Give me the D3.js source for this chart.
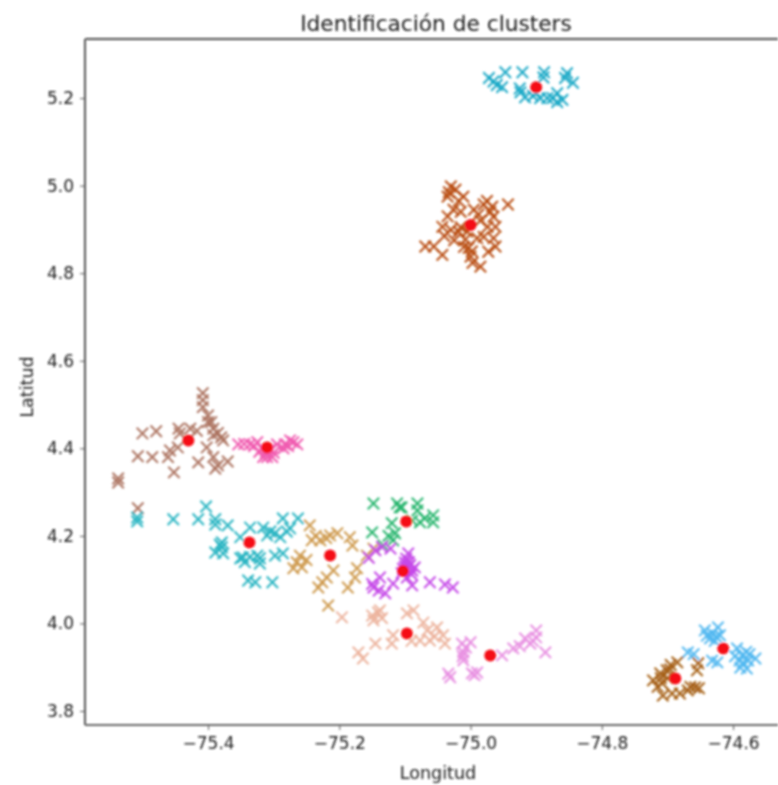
<!DOCTYPE html>
<html>
<head>
<meta charset="utf-8">
<script src="https://cdn.jsdelivr.net/npm/d3@7"></script>
<style>
  html, body { margin: 0; padding: 0; background: #fff; overflow: hidden; }
  text { font-family: "DejaVu Sans", sans-serif; fill: #1c1c1c; }
</style>
</head>
<body>
<div id="chart"></div>
<script>
// values, [longitud, latitud]
const teal = [[-74.972,5.246],[-74.965,5.238],[-74.947,5.259],[-74.96,5.23],[-74.952,5.225],[-74.921,5.259],[-74.888,5.259],[-74.889,5.247],[-74.924,5.213],[-74.917,5.202],[-74.905,5.205],[-74.894,5.2],[-74.883,5.2],[-74.868,5.211],[-74.868,5.191],[-74.86,5.196],[-74.875,5.2],[-74.853,5.257],[-74.856,5.246],[-74.844,5.235],[-74.925,5.222],[-74.9,5.212]];
const rust = [[-75.03,4.998],[-75.023,4.991],[-75.011,4.975],[-75.035,4.975],[-75.026,4.945],[-74.98,4.957],[-74.967,4.952],[-74.943,4.957],[-74.988,4.934],[-74.965,4.929],[-75.043,4.906],[-75.03,4.899],[-75.018,4.895],[-74.974,4.906],[-74.962,4.906],[-74.98,4.883],[-75.008,4.877],[-75.003,4.858],[-75,4.838],[-74.997,4.824],[-74.985,4.815],[-74.973,4.849],[-74.962,4.861],[-75.069,4.861],[-75.056,4.861],[-75.043,4.842],[-75.035,4.93],[-75.015,4.94],[-74.995,4.945],[-75.04,4.885],[-75.01,4.86],[-74.99,4.88],[-75.025,4.875],[-74.975,4.965],[-75.033,4.985],[-75.018,4.965],[-74.998,4.85],[-74.965,4.88],[-74.985,4.92],[-75.015,4.905],[-75.005,4.895],[-74.97,4.94]];
const mauve = [[-75.408,4.526],[-75.408,4.51],[-75.408,4.494],[-75.40,4.475],[-75.40,4.46],[-75.392,4.445],[-75.385,4.435],[-75.377,4.418],[-75.392,4.43],[-75.445,4.445],[-75.427,4.445],[-75.417,4.44],[-75.443,4.434],[-75.5,4.434],[-75.479,4.439],[-75.507,4.382],[-75.485,4.38],[-75.461,4.38],[-75.458,4.395],[-75.446,4.402],[-75.452,4.345],[-75.415,4.368],[-75.392,4.38],[-75.389,4.354],[-75.385,4.361],[-75.37,4.37],[-75.402,4.402],[-75.537,4.331],[-75.537,4.322],[-75.507,4.263],[-75.395,4.46],[-75.38,4.425]];
const pink = [[-75.354,4.409],[-75.336,4.409],[-75.325,4.414],[-75.318,4.4],[-75.31,4.38],[-75.302,4.38],[-75.316,4.38],[-75.295,4.409],[-75.283,4.409],[-75.275,4.418],[-75.264,4.409],[-75.27,4.414],[-75.33,4.405],[-75.305,4.398],[-75.285,4.4],[-75.345,4.41],[-75.312,4.39],[-75.322,4.392],[-75.3,4.39],[-75.278,4.405]];
const cyan = [[-75.508,4.242],[-75.508,4.233],[-75.453,4.238],[-75.403,4.267],[-75.415,4.238],[-75.389,4.238],[-75.389,4.226],[-75.37,4.224],[-75.379,4.185],[-75.379,4.174],[-75.389,4.162],[-75.377,4.16],[-75.336,4.219],[-75.316,4.219],[-75.351,4.197],[-75.31,4.201],[-75.298,4.206],[-75.29,4.197],[-75.286,4.24],[-75.275,4.217],[-75.263,4.24],[-75.28,4.21],[-75.351,4.149],[-75.347,4.151],[-75.336,4.152],[-75.321,4.149],[-75.321,4.137],[-75.298,4.155],[-75.286,4.16],[-75.339,4.098],[-75.328,4.094],[-75.302,4.094],[-75.382,4.18],[-75.305,4.21],[-75.344,4.14],[-75.325,4.155]];
const tan = [[-75.245,4.224],[-75.242,4.19],[-75.229,4.19],[-75.214,4.201],[-75.203,4.206],[-75.184,4.197],[-75.18,4.178],[-75.26,4.155],[-75.27,4.126],[-75.257,4.128],[-75.265,4.14],[-75.209,4.121],[-75.219,4.105],[-75.226,4.094],[-75.232,4.082],[-75.173,4.126],[-75.176,4.105],[-75.187,4.082],[-75.158,4.155],[-75.148,4.171],[-75.217,4.041],[-75.236,4.2],[-75.22,4.195],[-75.25,4.145]];
const green = [[-75.148,4.274],[-75.112,4.274],[-75.108,4.265],[-75.081,4.274],[-75.081,4.258],[-75.15,4.208],[-75.12,4.229],[-75.115,4.206],[-75.118,4.19],[-75.077,4.231],[-75.057,4.247],[-75.057,4.231],[-75.133,4.178],[-75.089,4.235],[-75.105,4.265],[-75.07,4.24],[-75.125,4.2]];
const purple = [[-75.145,4.167],[-75.122,4.171],[-75.095,4.16],[-75.1,4.139],[-75.092,4.133],[-75.089,4.121],[-75.103,4.125],[-75.097,4.105],[-75.138,4.105],[-75.118,4.091],[-75.148,4.082],[-75.13,4.069],[-75.14,4.075],[-75.089,4.087],[-75.062,4.094],[-75.039,4.089],[-75.027,4.082],[-75.095,4.13],[-75.085,4.128],[-75.135,4.175],[-75.155,4.15],[-75.098,4.148],[-75.105,4.115],[-75.09,4.112],[-75.15,4.09],[-75.094,4.14],[-75.1,4.13]];
const salmon = [[-75.141,4.025],[-75.148,4.007],[-75.135,4.012],[-75.097,4.023],[-75.087,4.03],[-75.118,3.973],[-75.12,3.954],[-75.145,3.954],[-75.171,3.934],[-75.164,3.92],[-75.196,4.014],[-75.072,4.002],[-75.066,3.984],[-75.051,3.991],[-75.077,3.961],[-75.042,3.973],[-75.039,3.954],[-75.062,3.961],[-75.15,4.018],[-75.138,4.03],[-75.055,3.97],[-75.09,3.96]];
const orchid = [[-75.013,3.954],[-75,3.957],[-75.011,3.934],[-75.011,3.916],[-75.031,3.877],[-75.034,3.885],[-74.998,3.886],[-74.99,3.888],[-74.952,3.927],[-74.935,3.943],[-74.925,3.948],[-74.917,3.966],[-74.9,3.984],[-74.909,3.954],[-74.886,3.934],[-74.9,3.968],[-75.012,3.925],[-75.007,3.945],[-74.994,3.882],[-74.905,3.96]];
const sky = [[-74.643,3.984],[-74.623,3.991],[-74.635,3.966],[-74.62,3.973],[-74.628,3.96],[-74.669,3.934],[-74.624,3.911],[-74.632,3.915],[-74.594,3.943],[-74.586,3.927],[-74.577,3.915],[-74.566,3.92],[-74.589,3.899],[-74.579,3.897],[-74.597,3.925],[-74.58,3.935],[-74.632,3.978],[-74.626,3.97],[-74.64,3.972],[-74.585,3.91],[-74.575,3.93],[-74.59,3.915],[-74.66,3.93]];
const umber = [[-74.685,3.911],[-74.653,3.909],[-74.655,3.893],[-74.711,3.886],[-74.722,3.87],[-74.708,3.863],[-74.707,3.835],[-74.693,3.84],[-74.681,3.84],[-74.669,3.847],[-74.658,3.854],[-74.701,3.893],[-74.695,3.905],[-74.715,3.855],[-74.7,3.875],[-74.71,3.875],[-74.696,3.895],[-74.665,3.855],[-74.652,3.852]];

const clusters = [teal, rust, mauve, pink, cyan, tan, green, purple, salmon, orchid, sky, umber];
const clusterColors = ["#1aa9c6", "#b84c10", "#ac7360", "#f05cb0", "#27b4c2", "#cf9a4e", "#27b56e", "#c548e8", "#ecb29c", "#e88fe2", "#52b8f0", "#a56015"];

const centroidLon = [-74.90, -75.00, -75.43, -75.31, -75.337, -75.214, -75.098, -75.103, -75.097, -74.97, -74.615, -74.688];
const centroidLat = [5.225, 4.91, 4.418, 4.402, 4.185, 4.155, 4.233, 4.12, 3.977, 3.927, 3.943, 3.874];

const xTicks = [-75.4, -75.2, -75.0, -74.8, -74.6];
const yTicks = [3.8, 4.0, 4.2, 4.4, 4.6, 4.8, 5.0, 5.2];

const width = 778, height = 785;
const margin = { left: 85, top: 39, right: -2, bottom: 60 };

const x = d3.scaleLinear().domain([-75.5875, -74.5285]).range([margin.left, width - margin.right]);
const y = d3.scaleLinear().domain([3.768, 5.335]).range([height - margin.bottom, margin.top]);

const svg = d3.select("#chart").append("svg")
  .attr("width", width)
  .attr("height", height)
  .style("display", "block");

// the reference is a soft, upscaled image
svg.append("defs").append("filter")
  .attr("id", "soft")
  .attr("filterUnits", "userSpaceOnUse")
  .attr("x", 0).attr("y", 0)
  .attr("width", width).attr("height", height)
  .append("feGaussianBlur")
  .attr("stdDeviation", 0.8);

const root = svg.append("g").attr("filter", "url(#soft)");

const cross = d3.symbol().type(d3.symbolX).size(86);

clusters.forEach((pts, i) => {
  root.append("g")
    .selectAll("path")
    .data(pts)
    .enter().append("path")
    .attr("d", cross)
    .attr("transform", d => `translate(${x(d[0])},${y(d[1])})`)
    .attr("fill", "none")
    .attr("stroke", clusterColors[i])
    .attr("stroke-width", 2.1)
    .attr("stroke-opacity", 0.95);
});

root.append("g")
  .selectAll("circle")
  .data(centroidLon)
  .enter().append("circle")
  .attr("cx", d => x(d))
  .attr("cy", (_, i) => y(centroidLat[i]))
  .attr("r", 6)
  .attr("fill", "#f50f14");

// axes
const xAxis = root.append("g")
  .attr("transform", `translate(0,${height - margin.bottom})`)
  .call(d3.axisBottom(x).tickValues(xTicks).tickFormat(d3.format(".1f")).tickSize(5).tickPadding(7));

const yAxis = root.append("g")
  .attr("transform", `translate(${margin.left},0)`)
  .call(d3.axisLeft(y).tickValues(yTicks).tickFormat(d3.format(".1f")).tickSize(5).tickPadding(6));

root.selectAll(".tick text").style("font-size", "17px");
root.selectAll(".tick line").attr("stroke", "#555");
xAxis.select(".domain").remove();
yAxis.select(".domain").remove();

// frame: top spine is dark and thin, left and bottom come out greyer
root.append("line")
  .attr("x1", margin.left).attr("x2", width)
  .attr("y1", margin.top).attr("y2", margin.top)
  .attr("stroke", "#111").attr("stroke-width", 1.6);
root.append("line")
  .attr("x1", margin.left).attr("x2", margin.left)
  .attr("y1", margin.top).attr("y2", height - margin.bottom)
  .attr("stroke", "#555").attr("stroke-width", 2);
root.append("line")
  .attr("x1", margin.left).attr("x2", width)
  .attr("y1", height - margin.bottom).attr("y2", height - margin.bottom)
  .attr("stroke", "#666").attr("stroke-width", 2.2);

// titles
root.append("text")
  .attr("x", 436)
  .attr("y", 31)
  .attr("text-anchor", "middle")
  .style("font-size", "21.7px")
  .text("Identificación de clusters");

root.append("text")
  .attr("x", 438)
  .attr("y", 779)
  .attr("text-anchor", "middle")
  .style("font-size", "17.5px")
  .text("Longitud");

root.append("text")
  .attr("transform", "translate(33,387) rotate(-90)")
  .attr("text-anchor", "middle")
  .style("font-size", "17.5px")
  .text("Latitud");
</script>
</body>
</html>
